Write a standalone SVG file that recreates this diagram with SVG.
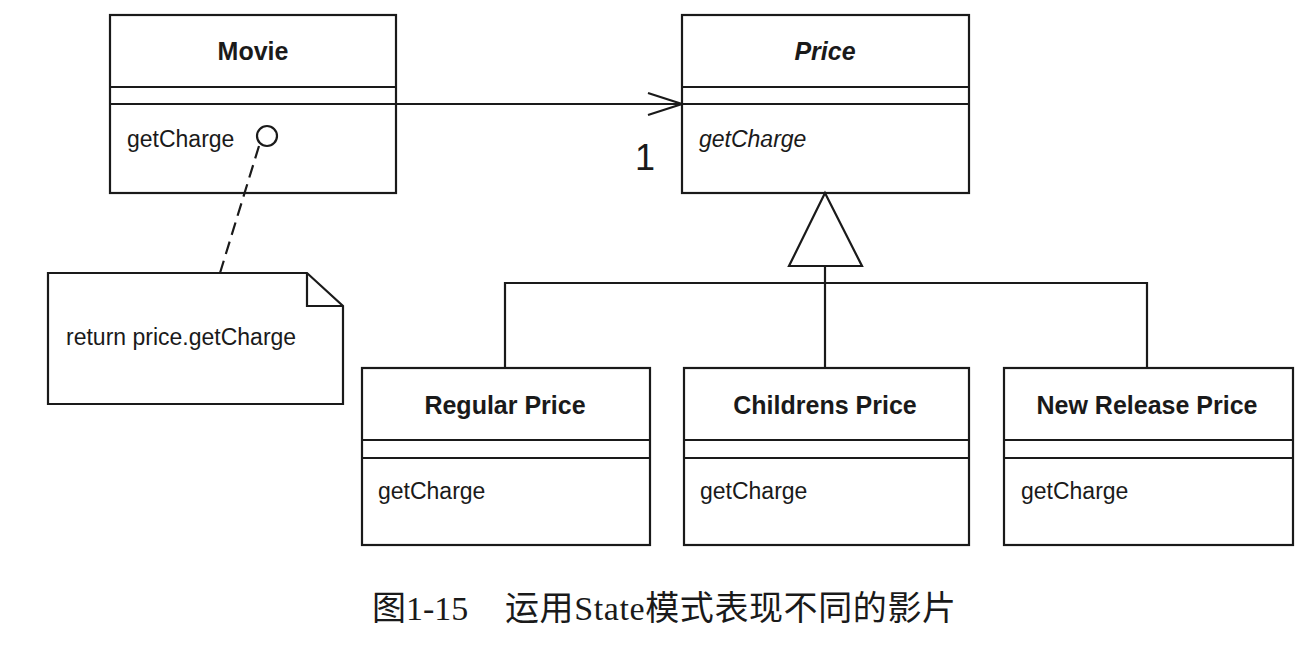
<svg xmlns="http://www.w3.org/2000/svg" width="1305" height="646" viewBox="0 0 1305 646">
<style>
.box{fill:#fff;stroke:#1a1a1a;stroke-width:2.2}
.ln{fill:none;stroke:#1a1a1a;stroke-width:2.2}
.dash{fill:none;stroke:#1a1a1a;stroke-width:2.2;stroke-dasharray:13 7}
.title{font-family:"Liberation Sans",Arial,sans-serif;font-weight:bold;font-size:25px;fill:#1a1a1a;text-anchor:middle}
.op{font-family:"Liberation Sans",Arial,sans-serif;font-size:23px;fill:#1a1a1a}
.it{font-style:italic}
.cap{font-family:"Liberation Serif","Noto Sans CJK SC",serif;font-size:34px;fill:#1a1a1a}
</style>
<rect width="1305" height="646" fill="#fff"/>
<g id="movie">
  <rect class="box" x="110" y="15" width="286" height="178"/>
  <line class="ln" x1="110" y1="87" x2="396" y2="87"/>
  <line class="ln" x1="110" y1="104" x2="396" y2="104"/>
  <text class="title" x="253" y="60">Movie</text>
  <text class="op" x="127" y="147">getCharge</text>
</g>
<g id="note">
  <polygon class="box" points="48,273 307,273 343,306 343,404 48,404"/>
  <polyline class="ln" points="307,273 307,306 343,306"/>
  <text class="op" x="66" y="345">return price.getCharge</text>
</g>
<g id="price">
  <rect class="box" x="682" y="15" width="287" height="178"/>
  <line class="ln" x1="682" y1="87" x2="969" y2="87"/>
  <line class="ln" x1="682" y1="104" x2="969" y2="104"/>
  <text class="title it" x="825" y="60">Price</text>
  <text class="op it" x="699" y="147">getCharge</text>
</g>
<g id="regular">
  <rect class="box" x="362" y="368" width="288" height="177"/>
  <line class="ln" x1="362" y1="440" x2="650" y2="440"/>
  <line class="ln" x1="362" y1="458" x2="650" y2="458"/>
  <text class="title" x="505" y="414">Regular Price</text>
  <text class="op" x="378" y="499">getCharge</text>
</g>
<g id="childrens">
  <rect class="box" x="684" y="368" width="285" height="177"/>
  <line class="ln" x1="684" y1="440" x2="969" y2="440"/>
  <line class="ln" x1="684" y1="458" x2="969" y2="458"/>
  <text class="title" x="825" y="414">Childrens Price</text>
  <text class="op" x="700" y="499">getCharge</text>
</g>
<g id="newrelease">
  <rect class="box" x="1004" y="368" width="289" height="177"/>
  <line class="ln" x1="1004" y1="440" x2="1293" y2="440"/>
  <line class="ln" x1="1004" y1="458" x2="1293" y2="458"/>
  <text class="title" x="1147" y="414">New Release Price</text>
  <text class="op" x="1021" y="499">getCharge</text>
</g>
<g id="connectors">
  <line class="ln" x1="396" y1="104" x2="682" y2="104"/>
  <polyline class="ln" points="648,93 682,104 648,115"/>
  <text x="645" y="170" font-family="Liberation Sans,Arial,sans-serif" font-size="36" fill="#1a1a1a" text-anchor="middle">1</text>
  <line class="dash" x1="259" y1="146" x2="220" y2="273"/>
  <circle cx="267" cy="136" r="10" fill="#fff" stroke="#1a1a1a" stroke-width="2.2"/>
  <polyline class="ln" points="505,368 505,283 1147,283 1147,368"/>
  <line class="ln" x1="825" y1="266" x2="825" y2="368"/>
  <polygon class="box" points="825,193 862,266 789,266"/>
</g>
<g id="caption">
  <text class="cap" x="372" y="620">图1-15</text>
  <text class="cap" x="505" y="620" letter-spacing="0.6">运用State模式表现不同的影片</text>
</g>
</svg>
